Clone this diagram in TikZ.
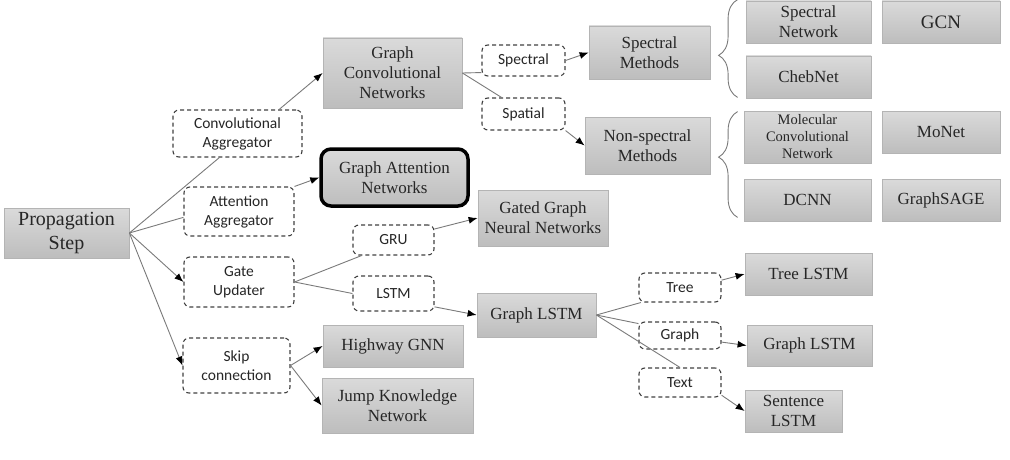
\documentclass[tikz,border=0pt]{standalone}
\usepackage{fontspec}
\setmainfont{Liberation Serif}
\newfontfamily\labelfont{Carlito}
\usepackage{tikz}
\usetikzlibrary{arrows.meta,calc,decorations.pathreplacing}

\definecolor{boxline}{HTML}{B4B4B4}
\definecolor{boxtop}{HTML}{DADADA}
\definecolor{boxbottom}{HTML}{BDBDBD}
\definecolor{ink}{HTML}{262626}
\definecolor{wire}{HTML}{7A7A7A}

\tikzset{
  box/.style={draw=boxline, line width=0.8pt, top color=boxtop, bottom color=boxbottom,
    text=ink, align=center, inner sep=0pt,
    font=\fontsize{17}{20}\selectfont},
  tag/.style={draw=black!75, line width=1.1pt, dash pattern=on 4pt off 3pt,
    rounded corners=6pt, text=ink, align=center, inner sep=0pt,
    font=\labelfont\fontsize{15.5}{19}\selectfont},
  wired/.style={draw=wire, line width=0.9pt},
  arrowed/.style={wired, -{Latex[length=9pt,width=7pt,black]}},
  curly/.style={draw=wire, line width=0.9pt,
    decorate, decoration={brace, amplitude=19pt}},
}

\begin{document}
\begin{tikzpicture}[x=1pt, y=-1pt]
  \useasboundingbox (0,0) rectangle (1010,460);

  \node[box, minimum width=125, minimum height=50,
    font=\fontsize{20}{24}\selectfont] (prop) at (66.5,233) {Propagation\\Step};

  \node[tag, minimum width=129, minimum height=47] (conv) at (237.5,133.5) {Convolutional\\Aggregator};
  \node[tag, minimum width=110, minimum height=49] (att) at (239,211.5) {Attention\\Aggregator};
  \node[tag, minimum width=110, minimum height=50] (gate) at (239,282) {Gate\\Updater};
  \node[tag, minimum width=107, minimum height=55] (skip) at (236.5,365.5) {Skip\\connection};

  \node[box, minimum width=139, minimum height=70] (gcn) at (392.5,73) {Graph\\Convolutional\\Networks};
  \node[box, draw=black, line width=3.5pt, rounded corners=10pt,
    minimum width=147, minimum height=57] (gan) at (394.5,177.5) {Graph Attention\\Networks};
  \node[tag, minimum width=81, minimum height=30] (gru) at (393.5,240) {GRU};
  \node[tag, minimum width=81, minimum height=35] (lstm) at (393.5,293.5) {LSTM};
  \node[box, minimum width=140, minimum height=42] (hwy) at (393,346) {Highway GNN};
  \node[box, minimum width=151, minimum height=55] (jkn) at (397.5,405.5) {Jump Knowledge\\Network};

  \node[tag, minimum width=83, minimum height=31] (spec) at (523.5,60.5) {Spectral};
  \node[tag, minimum width=83, minimum height=32] (spat) at (523.5,114) {Spatial};
  \node[box, minimum width=130, minimum height=56] (ggnn) at (543,218) {Gated Graph\\Neural Networks};
  \node[box, minimum width=119, minimum height=44] (glstm) at (536.5,315) {Graph LSTM};

  \node[box, minimum width=121, minimum height=53] (specm) at (649.5,52.5) {Spectral\\Methods};
  \node[box, minimum width=125, minimum height=57] (nonspec) at (647.5,145.5) {Non-spectral\\Methods};

  \node[tag, minimum width=82, minimum height=29] (tree) at (680,287.5) {Tree};
  \node[tag, minimum width=82, minimum height=27] (gph) at (680,335.5) {Graph};
  \node[tag, minimum width=82, minimum height=29] (txt) at (680,382.5) {Text};

  \node[box, minimum width=125, minimum height=42] (specnet) at (808.5,22) {Spectral\\Network};
  \node[box, minimum width=118, minimum height=42,
    font=\fontsize{19}{22}\selectfont] (gcnm) at (941,22) {GCN};
  \node[box, minimum width=125, minimum height=42] (cheb) at (808.5,77) {ChebNet};
  \node[box, minimum width=127, minimum height=52,
    font=\fontsize{14.5}{17}\selectfont] (mol) at (807.5,137) {Molecular\\Convolutional\\Network};
  \node[box, minimum width=118, minimum height=42] (monet) at (941,132) {MoNet};
  \node[box, minimum width=127, minimum height=42] (dcnn) at (807.5,200) {DCNN};
  \node[box, minimum width=118, minimum height=42] (sage) at (941,200) {GraphSAGE};

  \node[box, minimum width=127, minimum height=42] (treel) at (808.5,274) {Tree LSTM};
  \node[box, minimum width=125, minimum height=41] (gphl) at (809.5,345.5) {Graph LSTM};
  \node[box, minimum width=97, minimum height=42] (sent) at (793.5,411) {Sentence\\LSTM};

  \draw[wired] (prop.east) -- (conv.233);
  \draw[wired] (prop.east) -- (att.186);
  \draw[arrowed] (prop.east) -- (gate.west);
  \draw[arrowed] (prop.east) -- (skip.west);

  \draw[arrowed] (conv.30) -- (gcn.west);
  \draw[arrowed] (att.north east) -- (gan.west);

  \draw[wired] (gcn.east) -- (spec.196);
  \draw[wired] (gcn.east) -- (spat.143);
  \draw[arrowed] (spec.east) -- (specm.west);
  \draw[arrowed] (spat.south east) -- (nonspec.west);

  \draw[wired] (gate.east) -- (gru.206);
  \draw[wired] (gate.east) -- (lstm.west);
  \draw[arrowed] (gru.15) -- (ggnn.west);
  \draw[arrowed] (lstm.-18) -- (glstm.west);

  \draw[arrowed] (skip.east) -- (hwy.west);
  \draw[arrowed] (skip.east) -- (jkn.west);

  \draw[wired] (glstm.east) -- (tree.201);
  \draw[wired] (glstm.east) -- (gph.164);
  \draw[wired] (glstm.east) -- (txt.north);
  \draw[arrowed] (tree.10) -- (treel.west);
  \draw[arrowed] (gph.-9) -- (gphl.west);
  \draw[arrowed] (txt.-17) -- (sent.west);

  \draw[curly, decoration={aspect=0.43}]
    ($(cheb.south west)+(-8,-1)$) -- ($(specnet.north west)+(-8,-1)$);
  \draw[curly, decoration={aspect=0.57}]
    ($(dcnn.south west)+(-6,-4)$) -- ($(mol.north west)+(-6,1)$);
\end{tikzpicture}
\end{document}
